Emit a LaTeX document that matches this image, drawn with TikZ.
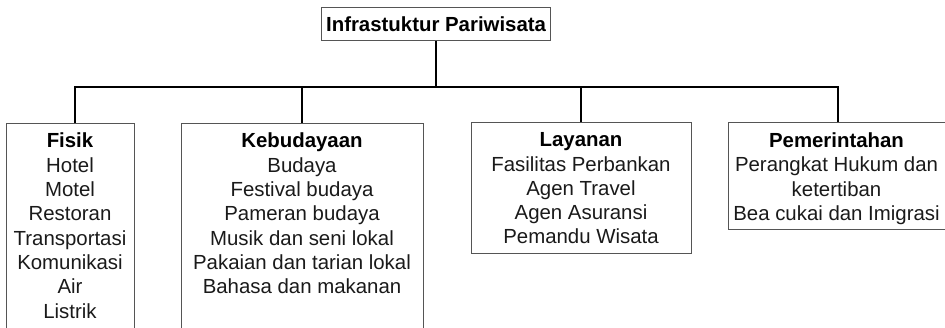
\documentclass[tikz,border=0pt]{standalone}
\usepackage{fontspec}
\setmainfont{Liberation Sans}
\definecolor{boxgray}{HTML}{555555}
\definecolor{textgray}{HTML}{1A1A1A}
\begin{document}
\begin{tikzpicture}[x=1pt,y=-1pt,
  box/.style={draw=boxgray, line width=1.2pt, rectangle, inner sep=0pt, anchor=north west},
  link/.style={draw=black, line width=1.8pt},
  label/.style={align=center, inner sep=0pt, text=textgray, font=\fontsize{20.4}{24.3}\selectfont, anchor=north}]
\useasboundingbox (0,0) rectangle (945,327);
\clip (0,0) rectangle (945,327);
\fill[white] (0,0) rectangle (945,327);
% top
\node[box, minimum width=229pt, minimum height=33pt, font=\bfseries\fontsize{20.4}{24}\selectfont] (top) at (321,7) {Infrastuktur Pariwisata};
% boxes
\node[box, minimum width=128pt, minimum height=240pt] (fisik) at (6,123) {};
\node[box, minimum width=242pt, minimum height=240pt] (budaya) at (181,123) {};
\node[box, minimum width=220pt, minimum height=131pt] (layanan) at (471,122) {};
\node[box, minimum width=222pt, minimum height=107pt] (pemerintah) at (728,122) {};
% texts
\node[label] (fisikT) at (70,133) {\textbf{\color{black}Fisik}\\Hotel\\Motel\\Restoran\\Transportasi\\Komunikasi\\Air\\Listrik};
\node[label] (budayaT) at (302,133) {\textbf{\color{black}Kebudayaan}\\Budaya\\Festival budaya\\Pameran budaya\\Musik dan seni lokal\\Pakaian dan tarian lokal\\Bahasa dan makanan};
\node[label] (layananT) at (581,132.5) {\textbf{\color{black}Layanan}\\Fasilitas Perbankan\\Agen Travel\\Agen Asuransi\\Pemandu Wisata};
\node[label] (pemerintahT) at (836.5,132.5) {\textbf{\color{black}Pemerintahan}\\Perangkat Hukum dan\\ketertiban\\Bea cukai dan Imigrasi};
% connectors
\coordinate (bus) at (436,87);
\coordinate (d1) at (75,87);
\coordinate (d2) at (302,87);
\coordinate (d3) at (581,87);
\coordinate (d4) at (838,87);
\draw[link] (top.south -| bus) -- (bus);
\draw[link] (d1 |- fisik.north) -- (d1) -- (d4) -- (d4 |- pemerintah.north);
\draw[link] (d2) -- (d2 |- budaya.north);
\draw[link] (d3) -- (d3 |- layanan.north);
\end{tikzpicture}
\end{document}
